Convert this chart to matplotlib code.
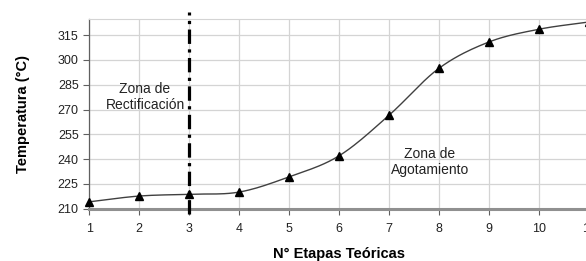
import numpy as np
import matplotlib.pyplot as plt

plt.rcParams['font.family'] = ['Liberation Sans', 'DejaVu Sans']

# datos
etapas = [1, 2, 3, 4, 5, 6, 7, 8, 9, 10, 11]
temperatura = [214.2, 217.7, 218.8, 220.1, 229.3, 242.0, 266.5, 294.9, 310.8, 318.5, 322.9]
yticks = [210, 225, 240, 255, 270, 285, 300, 315]


def suavizar(x, y, n=20):
    # curva Catmull-Rom entre los puntos (solo para dibujar la linea)
    x = np.array(x, dtype=float)
    y = np.array(y, dtype=float)
    px = np.concatenate([[2 * x[0] - x[1]], x, [2 * x[-1] - x[-2]]])
    py = np.concatenate([[2 * y[0] - y[1]], y, [2 * y[-1] - y[-2]]])
    xs, ys = [], []
    t = np.linspace(0, 1, n, endpoint=False)
    for i in range(1, len(px) - 2):
        for p, out in ((px, xs), (py, ys)):
            p0, p1, p2, p3 = p[i - 1], p[i], p[i + 1], p[i + 2]
            out.extend(0.5 * (2 * p1 + (-p0 + p2) * t + (2 * p0 - 5 * p1 + 4 * p2 - p3) * t ** 2
                              + (-p0 + 3 * p1 - 3 * p2 + p3) * t ** 3))
    xs.append(x[-1])
    ys.append(y[-1])
    return np.array(xs), np.array(ys)


fig = plt.figure(figsize=(5.86, 2.61), dpi=100)
ax = fig.add_axes([0.152, 0.2, 0.853, 0.726])

xs, ys = suavizar(etapas, temperatura)
ax.plot(xs, ys, color='#404040', lw=1.0, zorder=3)
ax.plot(etapas, temperatura, ls='none', marker='^', ms=6, color='black', zorder=4, clip_on=False)

ax.plot([3, 3], [207, 329], color='black', lw=2.3, ls=(0, (4.5, 1.7, 1, 1.7)),
        clip_on=False, zorder=5)

ax.set_xlim(1, 11)
ax.set_ylim(210, 324.5)
ax.set_xticks(etapas)
ax.set_yticks(yticks)
ax.grid(True, color='#d4d4d4', lw=0.9)
ax.set_axisbelow(True)

for s in ['top', 'right']:
    ax.spines[s].set_color('#d4d4d4')
ax.spines['left'].set_color('#606060')
ax.spines['left'].set_linewidth(0.9)
ax.spines['bottom'].set_color('#909090')
ax.spines['bottom'].set_linewidth(2.2)
ax.tick_params(axis='both', labelsize=9, colors='#606060', labelcolor='#222222', length=4, width=0.8)
ax.tick_params(axis='x', pad=6)

ax.text(2.12, 277.5, 'Zona de\nRectificación', ha='center', va='center', fontsize=10, color='#222222')
ax.text(7.82, 238.5, 'Zona de\nAgotamiento', ha='center', va='center', fontsize=10, color='#222222')

ax.set_xlabel('N° Etapas Teóricas', fontsize=10.5, fontweight='bold', labelpad=9)
ax.set_ylabel('Temperatura (°C)', fontsize=10.5, fontweight='bold', labelpad=20)

fig.savefig('out.png', dpi=100)
